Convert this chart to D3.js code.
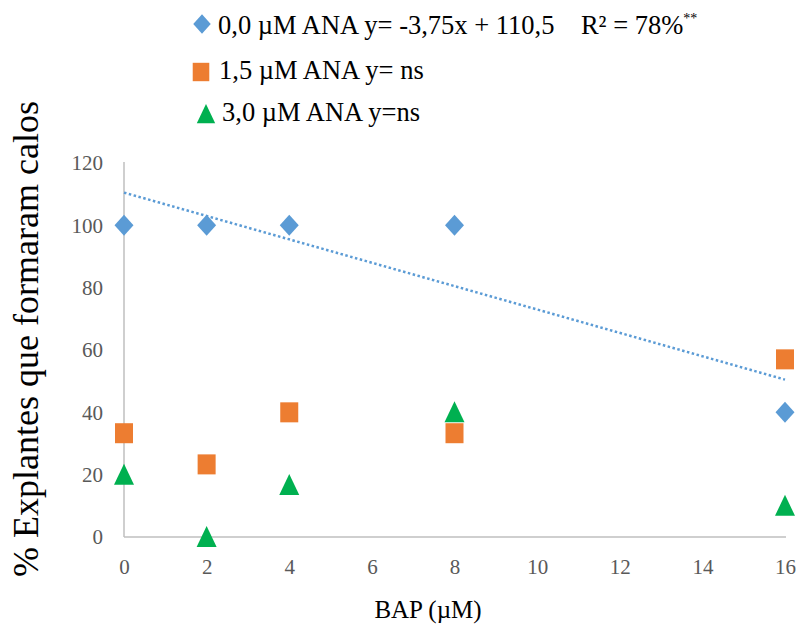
<!DOCTYPE html>
<html>
<head>
<meta charset="utf-8">
<script src="https://cdn.jsdelivr.net/npm/d3@7"></script>
<style>
  html, body { margin: 0; padding: 0; background: #fff; }
  svg { display: block; }
</style>
</head>
<body>
<div id="chart"></div>
<script>
// ---- data ----
const xValues = [0, 2, 4, 8, 16];
const ana00 = [100, 100, 100, 100, 40];
const ana15 = [33.3, 23.3, 40, 33.3, 57];
const ana30 = [20, 0, 16.7, 40, 10];
const xTicks = [0, 2, 4, 6, 8, 10, 12, 14, 16];
const yTicks = [0, 20, 40, 60, 80, 100, 120];
const trendSlope = -3.75;
const trendIntercept = 110.5;
const legendLabels = ["0,0 µM ANA y= -3,75x + 110,5    R² = 78%", "1,5 µM ANA y= ns", "3,0 µM ANA y=ns"];
const seriesColors = ["#5b9bd5", "#ed7d31", "#00b050"];

const FONT = "'Liberation Serif', 'Times New Roman', Times, serif";
const W = 798, H = 631;
const svg = d3.select("#chart").append("svg").attr("width", W).attr("height", H);

const x = d3.scaleLinear().domain([0, 16]).range([124, 785]);
const y = d3.scaleLinear().domain([0, 120]).range([537, 163]);

// axis lines
svg.append("line").attr("x1", x(0)).attr("x2", x(0)).attr("y1", y(120) - 1).attr("y2", y(0))
  .attr("stroke", "#bfbfbf").attr("stroke-width", 1.5);
svg.append("line").attr("x1", x(0)).attr("x2", x(16) + 1).attr("y1", y(0)).attr("y2", y(0))
  .attr("stroke", "#bfbfbf").attr("stroke-width", 1.5);

// axes via d3 axis (labels only)
const yAxis = svg.append("g").attr("transform", `translate(${x(0)},0)`)
  .call(d3.axisLeft(y).tickValues(yTicks).tickSize(0).tickPadding(21).tickFormat(d3.format("d")));
yAxis.select(".domain").remove();
yAxis.selectAll("text").style("font-family", FONT).style("font-size", "21px").attr("fill", "#595959");

const xAxis = svg.append("g").attr("transform", `translate(0,${y(0)})`)
  .call(d3.axisBottom(x).tickValues(xTicks).tickSize(0).tickPadding(0).tickFormat(d3.format("d")));
xAxis.select(".domain").remove();
xAxis.selectAll("text").attr("dy", null).attr("y", 37).style("font-family", FONT).style("font-size", "21px").attr("fill", "#595959");

// trendline
svg.append("line")
  .attr("x1", x(0)).attr("y1", y(trendIntercept))
  .attr("x2", x(16)).attr("y2", y(trendIntercept + trendSlope * 16))
  .attr("stroke", "#5b9bd5").attr("stroke-width", 2.5).attr("stroke-dasharray", "2.5,2.5");

function drawMarker(g, type, cx, cy, s) {
  s = s || 1;
  if (type === 0) {
    g.append("path").attr("d", `M${cx},${cy-10.5*s} L${cx+9.5*s},${cy} L${cx},${cy+10.5*s} L${cx-9.5*s},${cy} Z`).attr("fill", seriesColors[0]);
  } else if (type === 1) {
    g.append("rect").attr("x", cx - 9*s).attr("y", cy - 10*s).attr("width", 18*s).attr("height", 20*s).attr("fill", seriesColors[1]);
  } else {
    g.append("path").attr("d", `M${cx},${cy-11*s} L${cx+10*s},${cy+10*s} L${cx-10*s},${cy+10*s} Z`).attr("fill", seriesColors[2]);
  }
}

const allSeries = [ana00, ana15, ana30];
const mg = svg.append("g");
allSeries.forEach((vals, si) => {
  vals.forEach((v, i) => drawMarker(mg, si, x(xValues[i]), y(v)));
});

// legend
const lg = svg.append("g");
const legendBase = [34, 79, 121];
const legendMY = [24, 72, 114];
const legendMX = [202, 201, 206];
const legendTX = [218, 219, 222];
legendLabels.forEach((lab, i) => {
  drawMarker(lg, i, legendMX[i], legendMY[i], 0.92);
  const t = lg.append("text").attr("x", legendTX[i]).attr("y", legendBase[i])
    .style("font-family", FONT).style("font-size", "26.5px").style("white-space", "pre")
    .attr("fill", "#000").text(lab);
  if (i === 0) {
    t.append("tspan").style("font-size", "14px").attr("dy", -11).text("**");
  }
});

// axis titles
svg.append("text").attr("x", 428).attr("y", 618).attr("text-anchor", "middle")
  .style("font-family", FONT).style("font-size", "25px").attr("fill", "#000").text("BAP (µM)");
svg.append("text").attr("transform", "translate(38,339) rotate(-90)").attr("text-anchor", "middle")
  .style("font-family", FONT).style("font-size", "36px").attr("fill", "#000").text("% Explantes que formaram calos");
</script>
</body>
</html>
